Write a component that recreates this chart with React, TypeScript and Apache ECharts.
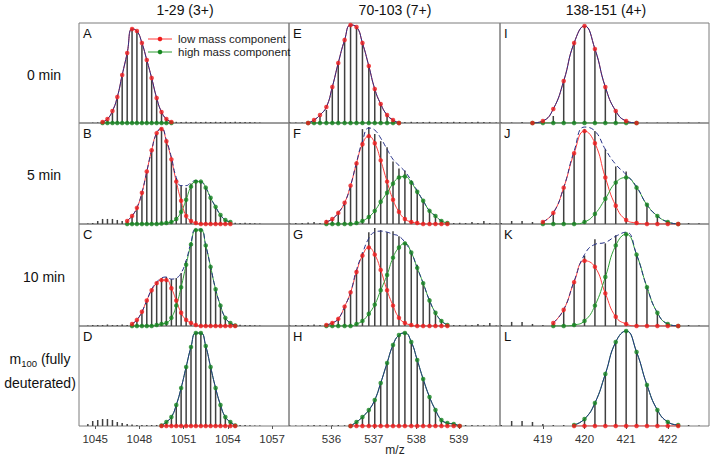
import React, { useEffect, useRef } from "react";
import * as echarts from "echarts";

const _ = null;

// isotope m/z grids per column
const mz1 = [1044.5, 1044.83, 1045.17, 1045.5, 1045.83, 1046.17, 1046.5, 1046.83, 1047.17, 1047.5,
  1047.83, 1048.17, 1048.5, 1048.83, 1049.17, 1049.5, 1049.83, 1050.17, 1050.5, 1050.83,
  1051.17, 1051.5, 1051.83, 1052.17, 1052.5, 1052.83, 1053.17, 1053.5, 1053.83, 1054.17,
  1054.5, 1054.83, 1055.17, 1055.5, 1055.83, 1056.17];
const mz2 = [535.02, 535.16, 535.31, 535.45, 535.59, 535.73, 535.88, 536.02, 536.16, 536.31,
  536.45, 536.59, 536.73, 536.88, 537.02, 537.16, 537.31, 537.45, 537.59, 537.73,
  537.88, 538.02, 538.16, 538.31, 538.45, 538.59, 538.73, 538.88, 539.02, 539.16,
  539.31, 539.45, 539.59, 539.73, 539.88];
const mz3 = [418, 418.25, 418.5, 418.75, 419, 419.25, 419.5, 419.75, 420, 420.25, 420.5,
  420.75, 421, 421.25, 421.5, 421.75, 422, 422.25, 422.5, 422.75, 423];

const ticks1 = [1045, 1048, 1051, 1054, 1057];
const ticks2 = [536, 537, 538, 539];
const ticks3 = [419, 420, 421, 422];

const columnTitles = ["1-29 (3+)", "70-103 (7+)", "138-151 (4+)"];
const rowLabels = ["0 min", "5 min", "10 min"];
const legendNames = ["low mass component", "high mass component"];

// ---- column 1 ----
const stickA = [0, 0.004, 0.006, 0.01, 0.03, 0.10, 0.24, 0.46, 0.68, 0.94,
  0.92, 0.78, 0.61, 0.43, 0.24, 0.10, 0.04, 0.015, 0.012, 0.01,
  0.012, 0.01, 0.012, 0.01, 0.012, 0.01, 0.012, 0.01, 0.012, 0.01,
  0.012, 0.01, 0.01, 0.01, 0.008, 0.005];
const redA = [_, _, _, 0.01, 0.04, 0.12, 0.26, 0.48, 0.70, 0.94,
  0.92, 0.80, 0.63, 0.45, 0.25, 0.11, 0.04, 0.01, _, _,
  _, _, _, _, _, _, _, _, _, _, _, _, _, _, _, _];
const greenA = [_, _, _, 0, 0, 0, 0, 0, 0, 0,
  0, 0, 0, 0, 0, 0, 0, 0, _, _,
  _, _, _, _, _, _, _, _, _, _, _, _, _, _, _, _];

const stickB = [0.005, 0.01, 0.03, 0.05, 0.05, 0.05, 0.04, 0.03, 0.03, 0.08,
  0.16, 0.31, 0.52, 0.73, 0.90, 0.95, 0.83, 0.63, 0.45, 0.38,
  0.36, 0.40, 0.43, 0.42, 0.36, 0.26, 0.17, 0.09, 0.04, 0.02,
  0.012, 0.01, 0.012, 0.01, 0.008, 0.005];
const redB = [_, _, _, _, _, _, _, _, 0.03, 0.08,
  0.16, 0.31, 0.52, 0.73, 0.90, 0.94, 0.82, 0.64, 0.42, 0.23,
  0.08, 0.03, 0.01, 0, 0, 0, 0, 0, 0, 0,
  _, _, _, _, _, _];
const greenB = [_, _, _, _, _, _, _, _, 0, 0,
  0, 0, 0, 0, 0, 0.005, 0.01, 0.02, 0.05, 0.12,
  0.24, 0.37, 0.42, 0.42, 0.36, 0.26, 0.17, 0.09, 0.04, 0.02,
  _, _, _, _, _, _];
const envB = [_, _, _, _, _, _, _, _, 0.03, 0.08,
  0.16, 0.31, 0.52, 0.73, 0.90, 0.95, 0.83, 0.66, 0.46, 0.38,
  0.38, 0.41, 0.43, 0.42, 0.36, 0.26, 0.17, 0.09, 0.04, 0.02,
  _, _, _, _, _, _];

const stickC = [0.005, 0.01, 0.01, 0.01, 0.015, 0.01, 0.01, 0.015, 0.01, 0.02,
  0.06, 0.14, 0.25, 0.36, 0.43, 0.47, 0.48, 0.46, 0.47, 0.52,
  0.64, 0.82, 0.95, 0.95, 0.79, 0.58, 0.36, 0.20, 0.08, 0.03,
  0.01, 0.012, 0.01, 0.01, 0.008, 0.005];
const redC = [_, _, _, _, _, _, _, _, _, 0.02,
  0.06, 0.14, 0.25, 0.35, 0.42, 0.45, 0.45, 0.37, 0.25, 0.13,
  0.06, 0.03, 0.01, 0, 0, 0, 0, 0, 0, 0,
  0, _, _, _, _, _];
const greenC = [_, _, _, _, _, _, _, _, _, 0,
  0, 0, 0, 0, 0.01, 0.02, 0.03, 0.08, 0.20, 0.38,
  0.60, 0.80, 0.94, 0.94, 0.79, 0.58, 0.36, 0.20, 0.08, 0.03,
  0.005, _, _, _, _, _];
const envC = [_, _, _, _, _, _, _, _, _, 0.02,
  0.06, 0.14, 0.25, 0.36, 0.43, 0.47, 0.48, 0.46, 0.47, 0.52,
  0.64, 0.82, 0.95, 0.95, 0.79, 0.58, 0.36, 0.20, 0.08, 0.03,
  0.005, _, _, _, _, _];

const stickD = [0.02, 0.05, 0.06, 0.07, 0.07, 0.06, 0.04, 0.03, 0.02, 0.015,
  0.01, 0.01, 0.01, 0.01, 0.01, 0.02, 0.04, 0.09, 0.21, 0.38,
  0.59, 0.79, 0.93, 0.93, 0.80, 0.59, 0.38, 0.21, 0.09, 0.04,
  0.015, 0.01, 0.01, 0.008, 0.006, 0.005];
const greenD = [_, _, _, _, _, _, _, _, _, _,
  _, _, _, _, _, 0.005, 0.04, 0.09, 0.21, 0.38,
  0.59, 0.79, 0.93, 0.93, 0.80, 0.59, 0.38, 0.21, 0.09, 0.04,
  0.005, _, _, _, _, _];
const redD = [_, _, _, _, _, _, _, _, _, _,
  _, _, _, _, _, 0, 0, 0, 0, 0,
  0, 0, 0, 0, 0, 0, 0, 0, 0, 0,
  0, _, _, _, _, _];

// ---- column 2 ----
const stickE = [0.005, 0.005, 0.006, 0.01, 0.02, 0.07, 0.13, 0.36, 0.60, 0.83,
  0.98, 0.96, 0.80, 0.57, 0.34, 0.19, 0.08, 0.03, 0.01, 0.01,
  0.012, 0.01, 0.01, 0.012, 0.01, 0.01, 0.01, 0.012, 0.01, 0.01,
  0.01, 0.012, 0.01, 0.008, 0.005];
const redE = [_, _, _, 0, 0.03, 0.08, 0.16, 0.36, 0.60, 0.83,
  0.98, 0.96, 0.80, 0.57, 0.34, 0.19, 0.08, 0.03, 0, _,
  _, _, _, _, _, _, _, _, _, _, _, _, _, _, _];
const greenE = [_, _, _, 0, 0, 0, 0, 0, 0, 0,
  0, 0, 0, 0, 0, 0, 0, 0, 0, _,
  _, _, _, _, _, _, _, _, _, _, _, _, _, _, _];

const stickF = [0.005, 0.01, 0.01, 0.015, 0.02, 0.01, 0.04, 0.05, 0.12, 0.20,
  0.38, 0.62, 0.94, 0.96, 0.89, 0.82, 0.76, 0.62, 0.55, 0.53,
  0.43, 0.33, 0.24, 0.14, 0.08, 0.04, 0.02, 0.01, 0.012, 0.01,
  0.02, 0.01, 0.03, 0.01, 0.005];
const redF = [_, _, _, _, _, _, 0.02, 0.05, 0.11, 0.21,
  0.38, 0.60, 0.79, 0.87, 0.80, 0.63, 0.42, 0.24, 0.12, 0.05,
  0.02, 0.01, 0, 0, 0, 0, 0, _, _, _,
  _, _, _, _, _];
const greenF = [_, _, _, _, _, _, 0, 0, 0, 0,
  0, 0.01, 0.03, 0.07, 0.13, 0.22, 0.31, 0.40, 0.46, 0.47,
  0.41, 0.32, 0.23, 0.13, 0.08, 0.03, 0.01, _, _, _,
  _, _, _, _, _];
const envF = [_, _, _, _, _, _, 0.02, 0.05, 0.11, 0.21,
  0.38, 0.61, 0.82, 0.95, 0.93, 0.85, 0.74, 0.64, 0.58, 0.52,
  0.43, 0.33, 0.23, 0.13, 0.08, 0.03, 0.01, _, _, _,
  _, _, _, _, _];

const stickG = [0.005, 0.01, 0.01, 0.01, 0.015, 0.01, 0.02, 0.04, 0.08, 0.19,
  0.34, 0.55, 0.72, 0.92, 0.96, 0.94, 0.92, 0.93, 0.88, 0.82,
  0.72, 0.60, 0.42, 0.27, 0.14, 0.06, 0.02, 0.01, 0.01, 0.012,
  0.01, 0.02, 0.01, 0.03, 0.005];
const redG = [_, _, _, _, _, _, 0.01, 0.03, 0.07, 0.19,
  0.33, 0.53, 0.69, 0.77, 0.70, 0.55, 0.35, 0.20, 0.08, 0.03,
  0.01, 0, 0, 0, 0, 0, 0, _, _, _,
  _, _, _, _, _];
const greenG = [_, _, _, _, _, _, 0, 0, 0, 0,
  0, 0.02, 0.05, 0.12, 0.21, 0.35, 0.50, 0.67, 0.77, 0.81,
  0.72, 0.57, 0.42, 0.25, 0.13, 0.05, 0.01, _, _, _,
  _, _, _, _, _];
const envG = [_, _, _, _, _, _, 0.01, 0.03, 0.07, 0.19,
  0.33, 0.55, 0.71, 0.86, 0.92, 0.93, 0.92, 0.90, 0.88, 0.82,
  0.72, 0.57, 0.42, 0.25, 0.13, 0.05, 0.01, _, _, _,
  _, _, _, _, _];

const stickH = [0.005, 0.005, 0.006, 0.008, 0.01, 0.008, 0.01, 0.008, 0.01, 0.008,
  0.01, 0.04, 0.09, 0.16, 0.26, 0.43, 0.63, 0.81, 0.91, 0.93,
  0.84, 0.66, 0.47, 0.29, 0.16, 0.06, 0.03, 0.02, 0.01, 0.01,
  0.01, 0.008, 0.01, 0.006, 0.005];
const greenH = [_, _, _, _, _, _, _, _, _, _,
  0, 0.04, 0.09, 0.16, 0.26, 0.43, 0.63, 0.81, 0.91, 0.93,
  0.84, 0.66, 0.47, 0.29, 0.16, 0.06, 0.03, 0.02, 0, _,
  _, _, _, _, _];
const redH = [_, _, _, _, _, _, _, _, _, _,
  0, 0, 0, 0, 0, 0, 0, 0, 0, 0,
  0, 0, 0, 0, 0, 0, 0, 0, 0, _,
  _, _, _, _, _];

// ---- column 3 ----
const stickI = [0.005, 0.005, 0.01, 0.01, 0.02, 0.07, 0.42, 0.80, 0.97, 0.74, 0.36,
  0.12, 0.02, 0.01, 0.005, 0.005, 0.006, 0.005, 0.005, 0.004, 0];
const redI = [_, _, _, 0, 0.02, 0.14, 0.42, 0.80, 0.97, 0.74, 0.36,
  0.12, 0.02, 0, _, _, _, _, _, _, _];
const greenI = [_, _, _, 0, 0, 0, 0, 0, 0, 0, 0,
  0, 0, 0, _, _, _, _, _, _, _];

const stickJ = [0.01, 0.03, 0.03, 0.02, 0.03, 0.11, 0.36, 0.70, 0.94, 0.92, 0.74,
  0.57, 0.52, 0.38, 0.20, 0.08, 0.03, 0.01, 0.01, 0.008, 0];
const redJ = [_, _, _, _, 0.02, 0.11, 0.36, 0.70, 0.92, 0.80, 0.46,
  0.18, 0.04, 0.01, 0, 0, 0, 0, _, _, _];
const greenJ = [_, _, _, _, 0, 0, 0, 0, 0.02, 0.10, 0.25,
  0.41, 0.46, 0.36, 0.19, 0.08, 0.02, 0, _, _, _];
const envJ = [_, _, _, _, 0.02, 0.11, 0.36, 0.72, 0.96, 0.92, 0.74,
  0.59, 0.49, 0.37, 0.19, 0.08, 0.02, 0, _, _, _];

const stickK = [0.01, 0.04, 0.04, 0.02, 0.01, 0.03, 0.16, 0.43, 0.69, 0.85, 0.81,
  0.89, 0.91, 0.70, 0.38, 0.13, 0.03, 0.01, 0.01, 0.005, 0];
const redK = [_, _, _, _, _, 0.03, 0.16, 0.43, 0.64, 0.58, 0.32,
  0.09, 0.02, 0, 0, 0, 0, 0, _, _, _];
const greenK = [_, _, _, _, _, 0, 0, 0.01, 0.05, 0.20, 0.48,
  0.79, 0.90, 0.70, 0.38, 0.13, 0.02, 0, _, _, _];
const envK = [_, _, _, _, _, 0.03, 0.16, 0.44, 0.70, 0.80, 0.82,
  0.88, 0.92, 0.70, 0.38, 0.13, 0.02, 0, _, _, _];

const stickL = [0.01, 0.05, 0.05, 0.04, 0.02, 0.01, 0.01, 0.01, 0.07, 0.23, 0.52,
  0.84, 0.95, 0.74, 0.41, 0.16, 0.04, 0.01, 0.01, 0.005, 0];
const greenL = [_, _, _, _, _, _, _, 0.01, 0.07, 0.23, 0.52,
  0.84, 0.95, 0.74, 0.41, 0.16, 0.04, 0.01, _, _, _];
const redL = [_, _, _, _, _, _, _, 0, 0, 0, 0,
  0, 0, 0, 0, 0, 0, 0, _, _, _];

const FONT = "'Liberation Sans', Arial, sans-serif";

const colLeft = [79, 289, 500];
const colWidth = [210, 211, 209];
const rowTop = [23, 123, 224, 326];
const rowHeight = [100, 101, 102, 100];
const colRange = [[1043.9, 1058.15], [535.0, 539.97], [417.97, 422.99]];
const colMz = [mz1, mz2, mz3];
const colTicks = [ticks1, ticks2, ticks3];

type Panel = {
  letter: string; col: number; row: number;
  stick: number[]; red: (number | null)[]; green: (number | null)[];
  env: (number | null)[]; dashed: boolean;
};

const panels: Panel[] = [
  { letter: "A", col: 0, row: 0, stick: stickA, red: redA, green: greenA, env: redA, dashed: false },
  { letter: "B", col: 0, row: 1, stick: stickB, red: redB, green: greenB, env: envB, dashed: true },
  { letter: "C", col: 0, row: 2, stick: stickC, red: redC, green: greenC, env: envC, dashed: true },
  { letter: "D", col: 0, row: 3, stick: stickD, red: redD, green: greenD, env: greenD, dashed: false },
  { letter: "E", col: 1, row: 0, stick: stickE, red: redE, green: greenE, env: redE, dashed: false },
  { letter: "F", col: 1, row: 1, stick: stickF, red: redF, green: greenF, env: envF, dashed: true },
  { letter: "G", col: 1, row: 2, stick: stickG, red: redG, green: greenG, env: envG, dashed: true },
  { letter: "H", col: 1, row: 3, stick: stickH, red: redH, green: greenH, env: greenH, dashed: false },
  { letter: "I", col: 2, row: 0, stick: stickI, red: redI, green: greenI, env: redI, dashed: false },
  { letter: "J", col: 2, row: 1, stick: stickJ, red: redJ, green: greenJ, env: envJ, dashed: true },
  { letter: "K", col: 2, row: 2, stick: stickK, red: redK, green: greenK, env: envK, dashed: true },
  { letter: "L", col: 2, row: 3, stick: stickL, red: redL, green: greenL, env: greenL, dashed: false },
];

const RED = "#ee1c1c";
const RED_LINE = "#ff3b3b";
const GREEN = "#15851f";
const GREEN_LINE = "#2e9e35";
const BLUE = "#242f86";

function pairs(mz: number[], vals: (number | null)[]) {
  const out: number[][] = [];
  vals.forEach((v, k) => { if (v !== null && v !== undefined) out.push([mz[k], v]); });
  return out;
}

export default function App() {
  const ref = useRef<HTMLDivElement>(null);
  useEffect(() => {
    if (!ref.current) return;
    const chart = echarts.init(ref.current, undefined, { renderer: "svg" });
    const grid: any[] = [];
    const xAxis: any[] = [];
    const yAxis: any[] = [];
    const series: any[] = [];
    const graphic: any[] = [];

    panels.forEach((p, i) => {
      const bottom = p.row === 3;
      grid.push({
        left: colLeft[p.col], top: rowTop[p.row], width: colWidth[p.col], height: rowHeight[p.row],
        show: true, borderColor: "#7d7d7d", borderWidth: 1, backgroundColor: "transparent",
      });
      xAxis.push({
        gridIndex: i, type: "value", min: colRange[p.col][0], max: colRange[p.col][1],
        axisLine: { show: false },
        splitLine: { show: false },
        axisTick: { show: bottom, customValues: colTicks[p.col], length: 3, lineStyle: { color: "#555" } },
        axisLabel: {
          show: bottom, customValues: colTicks[p.col], fontSize: 11.5, color: "#333", fontFamily: FONT, margin: 7,
          formatter: (v: number) => String(v),
        },
      });
      yAxis.push({ gridIndex: i, type: "value", min: 0, max: 1, show: false });
      const mz = colMz[p.col];
      series.push({
        type: "bar", xAxisIndex: i, yAxisIndex: i, silent: true, z: 1,
        data: pairs(mz, p.stick), barWidth: 1.5,
        itemStyle: { color: "#404040" },
      });
      series.push({
        type: "line", xAxisIndex: i, yAxisIndex: i, silent: true, z: 2, smooth: 0.5,
        showSymbol: false, data: pairs(mz, p.red), lineStyle: { color: RED_LINE, width: 1 },
      });
      series.push({
        type: "line", xAxisIndex: i, yAxisIndex: i, silent: true, z: 2, smooth: 0.5,
        showSymbol: false, data: pairs(mz, p.green), lineStyle: { color: GREEN_LINE, width: 1 },
      });
      series.push({
        type: "line", xAxisIndex: i, yAxisIndex: i, silent: true, z: 3, smooth: 0.5,
        showSymbol: false, data: pairs(mz, p.env),
        lineStyle: { color: BLUE, width: 1, type: p.dashed ? [5, 3] : "solid" },
      });
      series.push({
        type: "scatter", xAxisIndex: i, yAxisIndex: i, silent: true, z: 4,
        data: pairs(mz, p.green), symbolSize: 4.5, itemStyle: { color: GREEN },
      });
      series.push({
        type: "scatter", xAxisIndex: i, yAxisIndex: i, silent: true, z: 4,
        data: pairs(mz, p.red), symbolSize: 4.5, itemStyle: { color: RED },
      });
      graphic.push({
        type: "text", x: colLeft[p.col] + 4, y: rowTop[p.row] + 10,
        style: { text: p.letter, fontSize: 13, fill: "#111", fontFamily: FONT, verticalAlign: "middle" },
      });
    });

    const titleX = [185, 395, 606];
    columnTitles.forEach((t, c) => {
      graphic.push({
        type: "text", x: titleX[c], y: 10,
        style: { text: t, fontSize: 14, fill: "#111", fontFamily: FONT, align: "center", verticalAlign: "middle" },
      });
    });
    const rowY = [75, 175, 277];
    rowLabels.forEach((t, r) => {
      graphic.push({
        type: "text", x: 44, y: rowY[r],
        style: { text: t, fontSize: 14, fill: "#111", fontFamily: FONT, align: "center", verticalAlign: "middle" },
      });
    });
    graphic.push({
      type: "text", x: 40, y: 371,
      style: {
        text: "{a|m}{s|100}{a| (fully}\n{a|deuterated)}",
        fontFamily: FONT, fill: "#111", align: "center", verticalAlign: "middle",
        rich: {
          a: { fontSize: 14, lineHeight: 24, fontFamily: FONT, fill: "#111" },
          s: { fontSize: 9.5, lineHeight: 24, fontFamily: FONT, fill: "#111", padding: [9, 0, 0, 0] },
        },
      },
    });
    graphic.push({
      type: "text", x: 395, y: 450,
      style: { text: "m/z", fontSize: 12, fill: "#222", fontFamily: FONT, align: "center", verticalAlign: "middle" },
    });
    // legend
    const legendY = [39, 52];
    const legendCol = [[RED_LINE, RED], [GREEN_LINE, GREEN]];
    legendNames.forEach((n, k) => {
      graphic.push({
        type: "line", shape: { x1: 148, y1: legendY[k], x2: 172, y2: legendY[k] },
        style: { stroke: legendCol[k][0], lineWidth: 1 },
      });
      graphic.push({
        type: "circle", shape: { cx: 160, cy: legendY[k], r: 2.3 },
        style: { fill: legendCol[k][1] },
      });
      graphic.push({
        type: "text", x: 178, y: legendY[k],
        style: { text: n, fontSize: 11.5, fill: "#222", fontFamily: FONT, verticalAlign: "middle" },
      });
    });

    chart.setOption({
      animation: false,
      backgroundColor: "#ffffff",
      grid, xAxis, yAxis, series, graphic,
    });
    return () => chart.dispose();
  }, []);
  return (
    <div
      ref={ref}
      style={{ position: "fixed", left: 0, top: 0, width: 711, height: 460, background: "#fff" }}
    />
  );
}
